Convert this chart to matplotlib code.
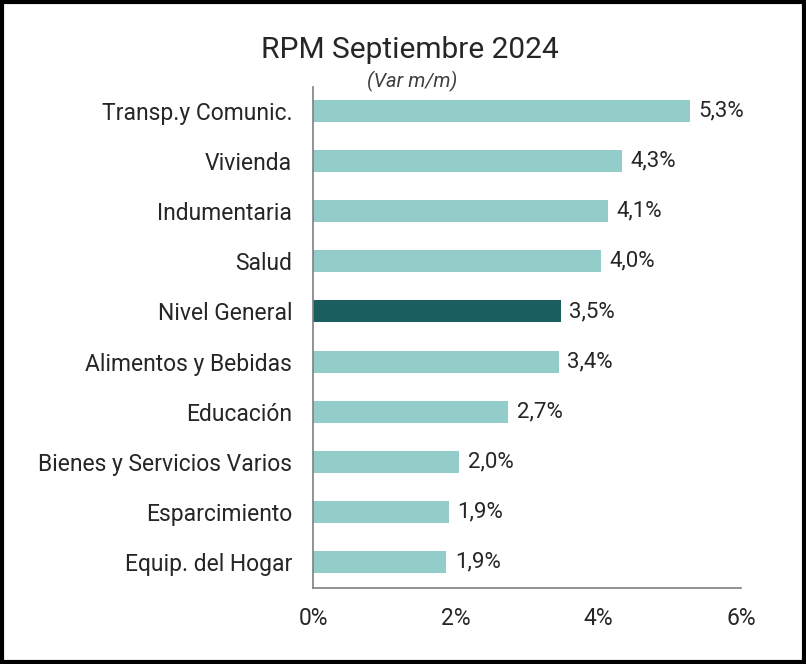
import matplotlib
matplotlib.use("Agg")
import matplotlib.pyplot as plt
from matplotlib.patches import Rectangle

plt.rcParams['font.family'] = ['Roboto', 'DejaVu Sans']

categories = ["Transp.y Comunic.", "Vivienda", "Indumentaria", "Salud", "Nivel General",
              "Alimentos y Bebidas", "Educación", "Bienes y Servicios Varios",
              "Esparcimiento", "Equip. del Hogar"]
values = [5.28, 4.33, 4.13, 4.04, 3.47, 3.45, 2.74, 2.05, 1.90, 1.87]
value_labels = ["5,3%", "4,3%", "4,1%", "4,0%", "3,5%", "3,4%", "2,7%", "2,0%", "1,9%", "1,9%"]
highlight = "Nivel General"
xticks = [0, 2, 4, 6]
xtick_labels = ["0%", "2%", "4%", "6%"]

light = "#93CDC9"
dark = "#1B5E5F"
text_color = "#262626"

fig = plt.figure(figsize=(8.06, 6.64), dpi=100)
ax = fig.add_axes([313/806, 1-588/664, (741-313)/806, (588-87)/664])

n = len(categories)
ypos = list(range(n - 1, -1, -1))
colors = [dark if c == highlight else light for c in categories]
ax.barh(ypos, values, height=0.44, color=colors)

for y, v, lab in zip(ypos, values, value_labels):
    ax.annotate(lab, (v, y), xytext=(6, 0), textcoords="offset points",
                va="center", ha="left", fontsize=16, color=text_color)

ax.set_xlim(0, 6)
ax.set_ylim(-0.52, n - 0.52)
ax.set_yticks(ypos)
ax.set_yticklabels(categories, fontsize=16.5, color=text_color)
ax.set_xticks(xticks)
ax.set_xticklabels(xtick_labels, fontsize=16.5, color=text_color)
ax.tick_params(axis="y", length=0, pad=15)
ax.tick_params(axis="x", length=0, pad=14)
for s in ["top", "right"]:
    ax.spines[s].set_visible(False)
for s in ["left", "bottom"]:
    ax.spines[s].set_color("#7F7F7F")
    ax.spines[s].set_linewidth(1.2)

fig.text(410/806, 1-50/664, "RPM Septiembre 2024", ha="center", va="center",
         fontsize=21.5, color=text_color)
fig.text(412/806, 1-81/664, "(Var m/m)", ha="center", va="center",
         fontsize=14.5, style="italic", color="#404040")

fig.patches.append(Rectangle((0.002, 0.003), 0.996, 0.994, transform=fig.transFigure,
                             fill=False, edgecolor="black", linewidth=3))

fig.savefig("out.png", dpi=100)
